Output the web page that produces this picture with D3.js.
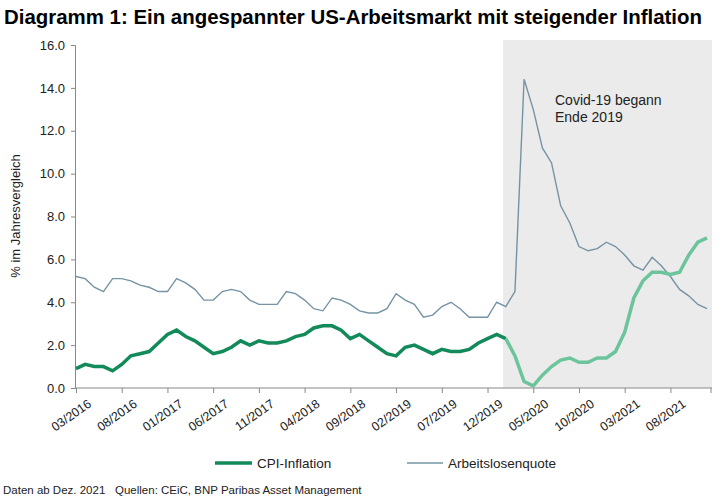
<!DOCTYPE html>
<html><head><meta charset="utf-8">
<script src="https://cdn.jsdelivr.net/npm/d3@7"></script>
<style>body{margin:0;background:#fff}svg{font-family:"Liberation Sans Narrow","Liberation Sans",Arial,sans-serif}</style>
</head><body><svg id="c" width="725" height="500"></svg>
<script>
//data
const months = []
for (let y = 2016; y <= 2021; y++) for (let m = 1; m <= 12; m++) if (!(y === 2016 && m < 3)) months.push(String(m).padStart(2, '0') + '/' + y)
const cpi = [0.9,1.1,1.0,1.0,0.8,1.1,1.5,1.6,1.7,2.1,
  2.5,2.7,2.4,2.2,1.9,1.6,1.7,1.9,2.2,2.0,2.2,2.1,
  2.1,2.2,2.4,2.5,2.8,2.9,2.9,2.7,2.3,2.5,2.2,1.9,
  1.6,1.5,1.9,2.0,1.8,1.6,1.8,1.7,1.7,1.8,2.1,2.3,
  2.5,2.3,1.5,0.3,0.1,0.6,1.0,1.3,1.4,1.2,1.2,1.4,
  1.4,1.7,2.6,4.2,5.0,5.4,5.4,5.3,5.4,6.2,6.8,7.0]
const unemp = [5.2,5.1,4.7,4.5,5.1,5.1,5.0,4.8,4.7,4.5,
  4.5,5.1,4.9,4.6,4.1,4.1,4.5,4.6,4.5,4.1,3.9,3.9,
  3.9,4.5,4.4,4.1,3.7,3.6,4.2,4.1,3.9,3.6,3.5,3.5,
  3.7,4.4,4.1,3.9,3.3,3.4,3.8,4.0,3.7,3.3,3.3,3.3,
  4.0,3.8,4.5,14.4,13.0,11.2,10.5,8.5,7.7,6.6,6.4,6.5,
  6.8,6.6,6.2,5.7,5.5,6.1,5.7,5.2,4.6,4.3,3.9,3.7]
const yTicks = [0,2,4,6,8,10,12,14,16]
const covidStart = 46.7 // shortly before 03/2020

const svg = d3.select('#c')
const x = d3.scaleLinear().domain([0, months.length - 1]).range([76, 707])
const y = d3.scaleLinear().domain([0, 16]).range([388, 45])

//title
svg.append('text').attr('x', 4).attr('y', 24).attr('font-size', 20).attr('font-weight', 'bold')
  .attr('textLength', 698).attr('lengthAdjust', 'spacingAndGlyphs')
  .text('Diagramm 1: Ein angespannter US-Arbeitsmarkt mit steigender Inflation')

//shading
svg.append('rect').attr('x', x(covidStart)).attr('y', 40).attr('width', 712 - x(covidStart)).attr('height', 388 - 40)
  .attr('fill', '#ebebeb')
svg.append('text').attr('x', 555).attr('y', 105).attr('font-size', 14).attr('font-family', 'Liberation Sans,Arial').attr('fill', '#222').text('Covid-19 begann')
svg.append('text').attr('x', 555).attr('y', 122).attr('font-size', 14).attr('font-family', 'Liberation Sans,Arial').attr('fill', '#222').text('Ende 2019')

//axes
const yAxis = svg.append('g').attr('transform', 'translate(75,0)')
  .call(d3.axisLeft(y).tickValues(yTicks).tickFormat(d3.format('.1f')).tickSize(4))
yAxis.select('.domain').attr('stroke', '#888')
yAxis.selectAll('line').attr('stroke', '#888')
yAxis.selectAll('text').attr('font-size', 13).attr('fill', '#222').attr('font-family', 'Liberation Sans,Arial').attr('x', -10)

const xAxis = svg.append('g').attr('transform', 'translate(0,388)')
  .call(d3.axisBottom(x).tickValues(d3.range(0, months.length, 5)).tickFormat(i => months[i]).tickSize(5))
xAxis.select('.domain').attr('stroke', '#888').attr('d', 'M75,0H712')
xAxis.selectAll('line').attr('stroke', '#888')
xAxis.append('line').attr('x1', 711).attr('x2', 711).attr('y1', 0).attr('y2', 5).attr('stroke', '#888')
xAxis.selectAll('.tick text').attr('font-size', 12.5).attr('fill', '#222').attr('font-family', 'Liberation Sans,Arial')
  .attr('text-anchor', 'end').attr('transform', 'translate(6,4) rotate(-35)')

svg.append('text').attr('transform', 'translate(20,216) rotate(-90)').attr('text-anchor', 'middle')
  .attr('font-size', 13).attr('font-family', 'Liberation Sans,Arial').attr('fill', '#222').text('% im Jahresvergleich')

//lines
const line = d3.line().x(d => x(d.i)).y(d => y(d.v))
const pts = arr => arr.map((v, i) => ({ i, v }))
svg.append('path').attr('d', line(pts(unemp))).attr('fill', 'none').attr('stroke', '#7593a4').attr('stroke-width', 1.4)
const cp = pts(cpi)
svg.append('path').attr('d', line(cp.filter(d => d.i <= 47))).attr('fill', 'none').attr('stroke', '#128a5a').attr('stroke-width', 3.5)
svg.append('path').attr('d', line(cp.filter(d => d.i >= 47))).attr('fill', 'none').attr('stroke', '#6cc49b').attr('stroke-width', 3.5)

//legend
svg.append('line').attr('x1', 215).attr('x2', 252).attr('y1', 463).attr('y2', 463).attr('stroke', '#128a5a').attr('stroke-width', 3.5)
svg.append('text').attr('x', 257).attr('y', 468).attr('font-size', 13.5).attr('font-family', 'Liberation Sans,Arial').attr('fill', '#222').text('CPI-Inflation')
svg.append('line').attr('x1', 407).attr('x2', 443).attr('y1', 463).attr('y2', 463).attr('stroke', '#7593a4').attr('stroke-width', 1.4)
svg.append('text').attr('x', 448).attr('y', 468).attr('font-size', 13.5).attr('font-family', 'Liberation Sans,Arial').attr('fill', '#222').text('Arbeitslosenquote')

//footer
svg.append('text').attr('x', 3).attr('y', 494).attr('font-size', 11.5).attr('fill', '#222').text('Daten ab Dez. 2021')
svg.append('text').attr('x', 115).attr('y', 494).attr('font-size', 11.5).attr('fill', '#222')
  .text('Quellen: CEiC, BNP Paribas Asset Management')
</script></body></html>
